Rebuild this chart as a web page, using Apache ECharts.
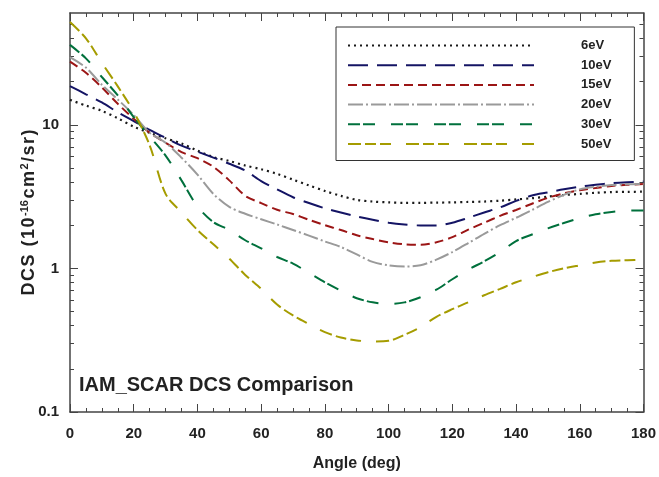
<!DOCTYPE html>
<html>
<head>
<meta charset="utf-8">
<script src="https://cdn.jsdelivr.net/npm/echarts@6/dist/echarts.min.js"></script>
<style>
html,body{margin:0;padding:0;background:#fff;}
#chart{width:659px;height:477px;}
</style>
</head>
<body>
<div id="chart"></div>
<script>
// angle grid (deg)
var angles = [0,5,10,15,20,25,30,35,40,45,50,55,60,65,70,75,80,85,90,95,100,105,110,115,120,125,130,135,140,145,150,155,160,165,170,175,180];

// DCS values, 10^-16 cm^2/sr
var dcs6eV  = [14.9,13.6,12.5,11.1,9.7,8.8,8.05,7.4,6.6,5.95,5.6,5.2,4.9,4.55,4.15,3.78,3.46,3.2,3.0,2.92,2.88,2.86,2.86,2.87,2.88,2.9,2.92,2.96,3.02,3.08,3.16,3.24,3.3,3.36,3.4,3.41,3.42];
var dcs10eV = [18.6,16.3,14.3,12.2,10.6,9.2,8.1,7.15,6.5,5.9,5.35,4.8,4.05,3.55,3.13,2.85,2.62,2.45,2.3,2.18,2.08,2.02,1.99,1.99,2.08,2.25,2.45,2.66,2.95,3.22,3.38,3.55,3.7,3.82,3.92,3.98,4.02];
var dcs15eV = [27.5,23,18.2,14,11.0,8.8,7.5,6.45,5.85,5.1,4.1,3.2,2.85,2.56,2.39,2.18,2.0,1.85,1.7,1.6,1.52,1.47,1.46,1.52,1.65,1.86,2.08,2.32,2.55,2.82,3.1,3.33,3.5,3.63,3.75,3.82,3.87];
var dcs20eV = [29.6,25,19,15,11.7,8.8,7.5,5.9,4.5,3.3,2.68,2.4,2.2,2.02,1.85,1.69,1.54,1.41,1.25,1.11,1.05,1.03,1.05,1.15,1.3,1.5,1.74,2.0,2.25,2.55,2.9,3.25,3.55,3.7,3.8,3.85,3.87];
var dcs30eV = [36,29,21.5,16,11.3,8.3,6.1,4.1,2.7,2.1,1.85,1.57,1.38,1.2,1.08,0.93,0.8,0.7,0.62,0.58,0.565,0.58,0.63,0.71,0.84,0.98,1.12,1.3,1.55,1.72,1.9,2.07,2.24,2.38,2.47,2.52,2.53];
var dcs50eV = [52,40,27,18.5,12.3,7.2,3.3,2.45,1.85,1.47,1.17,0.9,0.72,0.56,0.47,0.41,0.36,0.33,0.315,0.31,0.313,0.345,0.39,0.46,0.52,0.58,0.65,0.72,0.8,0.87,0.94,1.0,1.05,1.1,1.13,1.14,1.15];

var seriesNames = ['6eV','10eV','15eV','20eV','30eV','50eV'];
var majorTicks = [0.1, 1, 10];
var minorTicks = [0.2,0.3,0.4,0.5,0.6,0.7,0.8,0.9,2,3,4,5,6,7,8,9,20,30,40,50];

var myChart = echarts.init(document.getElementById('chart'));

function pairs(ys){
	var out = [];
	for(var i=0;i<angles.length;i++){
		out.push([angles[i], ys[i]]);
	}
	return out;
}

var axisCol = '#444';
var ff = 'Liberation Sans';
var hs = '\u200A'; // hair space, slightly wider lettering like the original

function yAx(pos, ticks, len, labels, line){
	return {
		type:'log', logBase:10, min:0.1, max:60, position:pos,
		axisLine:{show:line, onZero:false, lineStyle:{color:axisCol, width:1.5}},
		axisTick:{show:true, inside:true, length:len, customValues:ticks, lineStyle:{color:axisCol, width:1}},
		axisLabel:{show:labels, customValues:majorTicks, margin:11, fontFamily:ff, fontWeight:'bold', fontSize:15, color:'#222',
			formatter:function(v){ return v < 1 ? String(v) : String(Math.round(v)); }},
		splitLine:{show:false}
	};
}

function line(name, data, color, dash, w){
	return {
		name:name, type:'line', data:pairs(data), showSymbol:false, symbol:'none',
		smooth:0.3, xAxisIndex:0, yAxisIndex:0,
		lineStyle:{color:color, width:w||2, type:dash, cap:'butt'},
		itemStyle:{color:color},
		emphasis:{disabled:true}
	};
}

var yName = ['D','C','S',' ','(','1','0'].join(hs) + hs + '{sup|-16}' + hs + ['c','m'].join(hs) + hs + '{sup|2}' + hs + ['/','s','r',')'].join(hs);

var option = {
	animation:false,
	backgroundColor:'#fff',
	title:{
		text:'IAM_SCAR DCS Comparison',
		left:74, top:370,
		textStyle:{fontFamily:ff, fontWeight:'bold', fontSize:20, color:'#222'}
	},
	legend:{
		show:true,
		orient:'vertical', left:336, top:27,
		data:seriesNames,
		itemWidth:186, itemHeight:14, itemGap:6.7,
		padding:[12,23,10,11],
		borderColor:'#333', borderWidth:1, backgroundColor:'#fff',
		itemStyle:{opacity:0},
		textStyle:{fontFamily:ff, fontWeight:'bold', fontSize:13, color:'#222', padding:[0,0,0,42]}
	},
	grid:{left:70, right:13, top:13, bottom:62, containLabel:false},
	xAxis:[
		{
			type:'value', min:0, max:180, interval:20, position:'bottom',
			name:'Angle (deg)', nameLocation:'middle', nameGap:44, nameMoveOverlap:false,
			nameTextStyle:{fontFamily:ff, fontWeight:'bold', fontSize:16, color:'#222'},
			axisLine:{onZero:false, lineStyle:{color:axisCol, width:1.5}},
			axisTick:{inside:true, length:8, lineStyle:{color:axisCol}},
			minorTick:{show:true, splitNumber:4, length:4, lineStyle:{color:axisCol}},
			axisLabel:{margin:14, fontFamily:ff, fontWeight:'bold', fontSize:15, color:'#222'},
			splitLine:{show:false}
		},
		{
			type:'value', min:0, max:180, interval:20, position:'top',
			axisLine:{onZero:false, lineStyle:{color:axisCol, width:1.5}},
			axisTick:{inside:true, length:8, lineStyle:{color:axisCol}},
			minorTick:{show:true, splitNumber:4, length:4, lineStyle:{color:axisCol}},
			axisLabel:{show:false},
			splitLine:{show:false}
		}
	],
	yAxis:[
		(function(){
			var a = yAx('left', majorTicks, 8, true, true);
			a.name = yName;
			a.nameLocation = 'middle';
			a.nameGap = 31;
			a.nameRotate = 90;
			a.nameMoveOverlap = false;
			a.nameTextStyle = {fontFamily:ff, fontWeight:'bold', fontSize:18, color:'#222',
				rich:{sup:{fontFamily:ff, fontWeight:'bold', fontSize:11, color:'#222', verticalAlign:'bottom', padding:[0,0,9,0]}}};
			return a;
		})(),
		yAx('left', minorTicks, 4, false, false),
		yAx('right', majorTicks, 8, false, true),
		yAx('right', minorTicks, 4, false, false)
	],
	series:[
		line('6eV', dcs6eV, '#1a1a1a', [2,4], 2.2),
		line('10eV', dcs10eV, '#141464', [20,9]),
		line('15eV', dcs15eV, '#9b1515', [9,5]),
		line('20eV', dcs20eV, '#9a9a9a', [15,3,2,3]),
		line('30eV', dcs30eV, '#00703c', [12,3,12,16]),
		line('50eV', dcs50eV, '#a59c00', [13,4,11,4,11,15])
	]
};
myChart.setOption(option);
</script>
</body>
</html>
